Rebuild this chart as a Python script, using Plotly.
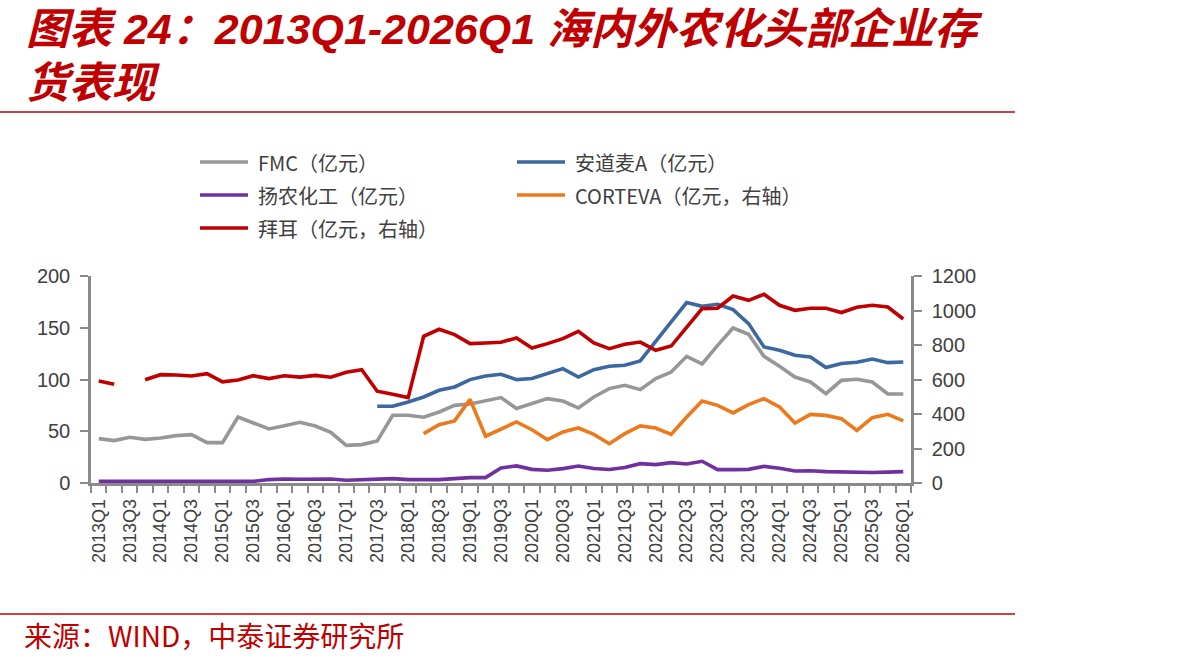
import plotly.graph_objects as go

# ---------------- data ----------------
quarters = [f"{y}Q{q}" for y in range(2013, 2027) for q in range(1, 5)][:53]

fmc = [42.9, 41.0, 44.2, 42.2, 43.5, 45.8, 46.7, 39.0, 39.0, 63.8,
       58.0, 52.2, 55.4, 58.6, 55.0, 49.0, 36.4, 37.1, 40.6, 65.4,
       65.4, 63.5, 68.6, 75.0, 76.3, 79.2, 82.5, 71.9, 76.7, 81.5,
       79.2, 72.5, 83.1, 91.2, 94.4, 90.2, 100.9, 107.2, 122.4, 115.0,
       133.0, 149.8, 143.7, 122.4, 112.8, 102.4, 97.6, 86.4, 99.2, 100.2,
       97.6, 86.0, 86.0]

adama = [None] * 18 + [
       74.1, 74.1, 78.3, 83.1, 89.6, 92.8, 99.9, 103.4, 105.0, 99.9,
       100.9, 105.7, 110.5, 102.4, 109.5, 112.8, 113.7, 117.9, 136.2, 155.6,
       174.3, 170.7, 172.7, 167.5, 154.0, 131.4, 128.2, 123.4, 121.7, 111.5,
       115.4, 116.6, 119.8, 116.3, 116.9]

yangnong = [1.6, 1.6, 1.6, 1.6, 1.6, 1.6, 1.6, 1.6, 1.6, 1.6,
            1.6, 3.3, 3.9, 3.6, 3.9, 3.9, 2.6, 2.9, 3.6, 4.2,
            3.3, 3.3, 3.3, 4.2, 5.2, 5.2, 14.5, 16.5, 13.2, 12.3,
            13.9, 16.4, 14.0, 13.0, 14.9, 18.7, 17.8, 19.7, 18.4, 21.0,
            12.9, 12.9, 13.2, 16.1, 14.3, 11.6, 11.9, 11.0, 10.5, 10.2,
            10.2, 10.5, 11.0]

corteva = [None] * 21 + [
           286, 338, 360, 485, 271, 310, 354, 309, 251, 296,
           319, 282, 228, 286, 331, 319, 282, 383, 475, 450,
           406, 454, 489, 441, 348, 398, 392, 373, 305, 379,
           398, 360]

bayer = [591, 572, None, 599, 628, 626, 620, 634, 586, 597,
         622, 605, 622, 614, 624, 613, 642, 657, 532, 514,
         495, 850, 891, 860, 808, 812, 816, 841, 783, 808,
         837, 879, 812, 779, 804, 817, 769, 794, 899, 1011,
         1013, 1084, 1059, 1094, 1030, 1001, 1013, 1013, 988, 1019,
         1030, 1020, 951]

series_names = ["FMC（亿元）", "安道麦A（亿元）", "扬农化工（亿元）",
                "CORTEVA（亿元，右轴）", "拜耳（亿元，右轴）"]
series_values = [fmc, adama, yangnong, corteva, bayer]
series_axes = ["y", "y", "y", "y2", "y2"]
series_colors = ["#979797", "#3A68A0", "#7030A0", "#EC7A1C", "#C00000"]

left_ticks = [0, 50, 100, 150, 200]
right_ticks = [0, 200, 400, 600, 800, 1000, 1200]

title_line1 = "图表 24：2013Q1-2026Q1 海内外农化头部企业存"
title_line2 = "货表现"
source_text = "来源：WIND，中泰证券研究所"

# ---------------- layout helpers ----------------
W, H = 1192, 666
L, R, T, B = 91, 281, 276, 183
PW, PH = W - L - R, H - T - B


def px(x):
    return (x - L) / PW


def py(y):
    return (H - B - y) / PH


RED = "#C00000"
AXIS = "#8A8A8A"
TXT = "#404040"
FONT = "Liberation Sans, Arial, Noto Sans CJK SC"
CJK = "Noto Sans CJK SC, Liberation Sans"

x_idx = list(range(len(quarters)))

fig = go.Figure()
for name, vals, ax, col in zip(series_names, series_values, series_axes, series_colors):
    fig.add_trace(go.Scatter(
        x=x_idx, y=vals, name=name, mode="lines", yaxis=ax,
        line=dict(color=col, width=3.6), connectgaps=False,
        showlegend=False, hoverinfo="skip"))

shapes = []
annotations = []

# manual legend (two columns)
legend_pos = [(200, 162), (517, 162), (200, 195), (517, 195), (200, 228)]
for (lx, ly), name, col in zip(legend_pos, series_names, series_colors):
    shapes.append(dict(type="line", xref="paper", yref="paper",
                       x0=px(lx), x1=px(lx + 48), y0=py(ly), y1=py(ly),
                       line=dict(color=col, width=3.6)))
    annotations.append(dict(text=name, xref="paper", yref="paper",
                            x=px(lx + 56), y=py(ly), xanchor="left", yanchor="middle",
                            showarrow=False, font=dict(family=CJK, size=20, color=TXT)))

# title
title_font = dict(family=FONT, size=43, color=RED, weight="bold", style="italic")
annotations.append(dict(text=title_line1, xref="paper", yref="paper",
                        x=px(24), y=py(29), xanchor="left", yanchor="middle",
                        showarrow=False, font=title_font))
annotations.append(dict(text=title_line2, xref="paper", yref="paper",
                        x=px(24), y=py(83), xanchor="left", yanchor="middle",
                        showarrow=False, font=title_font))
# rules
shapes.append(dict(type="line", xref="paper", yref="paper", x0=px(0), x1=px(1015),
                   y0=py(112), y1=py(112), line=dict(color=RED, width=1.6)))
shapes.append(dict(type="line", xref="paper", yref="paper", x0=px(0), x1=px(1015),
                   y0=py(614), y1=py(614), line=dict(color=RED, width=1.6)))
# source
annotations.append(dict(text=source_text, xref="paper", yref="paper",
                        x=px(22), y=py(635), xanchor="left", yanchor="middle",
                        showarrow=False, font=dict(family=CJK, size=28, color=RED)))

fig.update_layout(
    width=W, height=H,
    margin=dict(l=L, r=R, t=T, b=B, autoexpand=False),
    paper_bgcolor="white", plot_bgcolor="white",
    showlegend=False,
    shapes=shapes, annotations=annotations,
    xaxis=dict(
        range=[-0.5, len(quarters) - 0.5],
        tickmode="array", tickvals=x_idx[::2], ticktext=quarters[::2],
        tickangle=-90, ticks="outside", ticklen=0,
        showline=True, linecolor=AXIS, linewidth=2.5,
        showgrid=False, zeroline=False,
        tickfont=dict(family=FONT, size=18, color=TXT),
        ticklabelstandoff=6,
        minor=dict(tickmode="array", tickvals=[i - 0.5 for i in range(len(quarters) + 1)],
                   ticks="outside", ticklen=7, tickwidth=2, tickcolor=AXIS, showgrid=False),
    ),
    yaxis=dict(
        range=[0, 200], tickmode="array", tickvals=left_ticks,
        ticks="outside", ticklen=8, tickwidth=2, tickcolor=AXIS,
        showline=True, linecolor=AXIS, linewidth=2.5,
        showgrid=False, zeroline=False,
        tickfont=dict(family=FONT, size=20, color=TXT),
        ticklabelstandoff=6,
    ),
    yaxis2=dict(
        range=[0, 1200], tickmode="array", tickvals=right_ticks,
        overlaying="y", side="right",
        ticks="outside", ticklen=8, tickwidth=2, tickcolor=AXIS,
        showline=True, linecolor=AXIS, linewidth=2.5,
        showgrid=False, zeroline=False,
        tickfont=dict(family=FONT, size=20, color=TXT),
        ticklabelstandoff=6,
    ),
)

fig.write_html("out.html")
